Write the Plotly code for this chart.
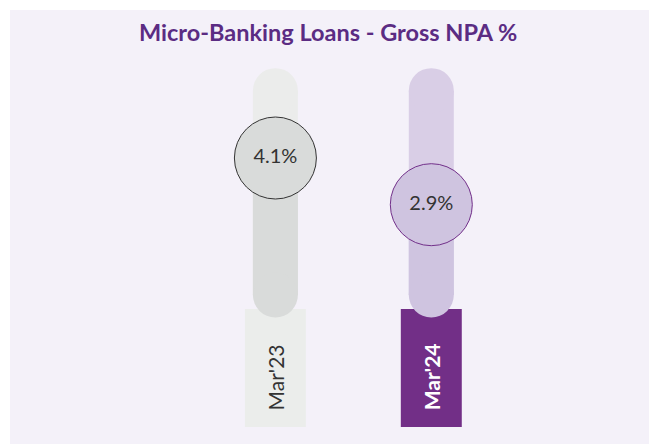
import plotly.graph_objects as go

# ---- data ----
categories = ["Mar'23", "Mar'24"]
gross_npa = [4.1, 2.9]
value_labels = ["4.1%", "2.9%"]
title_text = "Micro-Banking Loans - Gross NPA %"

# ---- style constants ----
track_max = 6.41          # top of the thermometer track (data units)
cap_r = 0.578             # cap radius in data units (22.5px)
track_colors = ["#EBECEB", "#D9CEE6"]
fill_colors = ["#D9DBDA", "#CFC4E0"]
circle_lines = ["#333333", "#72308A"]
box_colors = ["#EBEDEB", "#722F87"]
label_colors = ["#333333", "#FFFFFF"]
bg_color = "#F4F1F9"
font_family = "Lato, 'Noto Sans', sans-serif"

fig = go.Figure()

# bottom label boxes
fig.add_trace(go.Bar(x=categories, y=[0.2185 + 2.815] * 2, base=[-2.815] * 2,
                     width=0.391, marker=dict(color=box_colors, line=dict(width=0)),
                     hoverinfo="skip"))
# track body
fig.add_trace(go.Bar(x=categories, y=[track_max - 2 * cap_r] * 2, base=[cap_r] * 2,
                     width=0.2886, marker=dict(color=track_colors, line=dict(width=0)),
                     hoverinfo="skip"))
# fill body
fig.add_trace(go.Bar(x=categories, y=[v - 2 * cap_r for v in gross_npa], base=[cap_r] * 2,
                     width=0.2886, marker=dict(color=fill_colors, line=dict(width=0)),
                     hoverinfo="skip"))
# track top caps
fig.add_trace(go.Scatter(x=categories, y=[track_max - cap_r] * 2, mode="markers",
                         marker=dict(size=45, color=track_colors, line=dict(width=0)),
                         hoverinfo="skip"))
# fill caps (bottom and top)
fig.add_trace(go.Scatter(x=categories, y=[cap_r] * 2, mode="markers",
                         marker=dict(size=45, color=fill_colors, line=dict(width=0)),
                         hoverinfo="skip"))
fig.add_trace(go.Scatter(x=categories, y=[v - cap_r for v in gross_npa], mode="markers",
                         marker=dict(size=45, color=fill_colors, line=dict(width=0)),
                         hoverinfo="skip"))
# value circles
fig.add_trace(go.Scatter(x=categories, y=gross_npa, mode="markers+text",
                         text=value_labels, textposition="middle center",
                         textfont=dict(family=font_family, size=20, color="#333333"),
                         marker=dict(size=82, color=fill_colors,
                                     line=dict(width=1, color=circle_lines)),
                         hoverinfo="skip"))

# category labels inside the boxes
for i, c in enumerate(categories):
    fig.add_annotation(x=c, y=-1.53, text=("<b>%s</b>" % c) if i == 1 else c,
                       textangle=-90, showarrow=False,
                       xanchor="center", yanchor="middle",
                       font=dict(family=font_family, size=21, color=label_colors[i]))

fig.add_annotation(xref="paper", yref="paper", x=328 / 649, y=1 - 32 / 444,
                   xanchor="center", yanchor="middle",
                   text="<b>%s</b>" % title_text, showarrow=False,
                   font=dict(family=font_family, size=23.5, color="#5B2C83"))

# white outer border strips (left and top)
fig.add_shape(type="rect", xref="paper", yref="paper", x0=0, x1=10 / 649,
              y0=0, y1=1, fillcolor="white", line=dict(width=0), layer="below")
fig.add_shape(type="rect", xref="paper", yref="paper", x0=0, x1=1,
              y0=1 - 10 / 444, y1=1, fillcolor="white", line=dict(width=0), layer="below")

fig.update_layout(
    width=649, height=444,
    margin=dict(l=0, r=0, t=0, b=0),
    paper_bgcolor=bg_color, plot_bgcolor=bg_color,
    barmode="overlay", showlegend=False, hovermode=False,
    xaxis=dict(range=[-1.7665, 2.3964], visible=False, type="category",
               categoryorder="array", categoryarray=categories),
    yaxis=dict(range=[-3.252, 8.162], visible=False),
)

fig.write_html("out.html",
               config={"displayModeBar": False, "staticPlot": True},
               post_script="document.body.style.margin='0';"
                           "document.body.style.overflow='hidden';"
                           "document.body.style.background='" + bg_color + "';")
